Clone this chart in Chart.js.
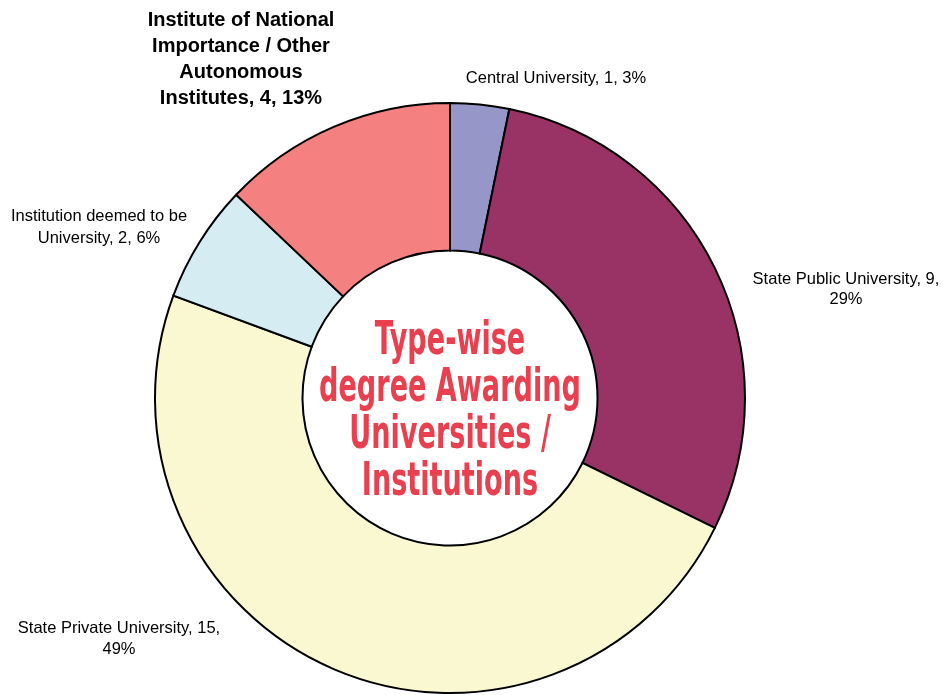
<!DOCTYPE html>
<html>
<head>
<meta charset="utf-8">
<script src="https://cdn.jsdelivr.net/npm/chart.js@4/dist/chart.umd.min.js"></script>
<style>
  html, body { margin: 0; padding: 0; background: #fff; }
  #wrap { width: 946px; height: 695px; position: relative; }
</style>
</head>
<body>
<div id="wrap"><canvas id="chart" width="946" height="695"></canvas></div>
<script>
// data
var categories = [
  "Central University",
  "State Public University",
  "State Private University",
  "Institution deemed to be University",
  "Institute of National Importance / Other Autonomous Institutes"
];
var counts = [1, 9, 15, 2, 4];
var sliceColors = ["#9696c8", "#993366", "#faf8d0", "#d5ecf3", "#f48080"];
var titleLines = ["Type-wise", "degree Awarding", "Universities /", "Institutions"];

// label text lines, anchor (center x, first line y), font
var labelSpecs = [
  { lines: ["Central University, 1, 3%"], x: 556, y: 78, lh: 20, bold: false, size: 16.5 },
  { lines: ["State Public University, 9,", "29%"], x: 846, y: 279, lh: 20, bold: false, size: 16.5 },
  { lines: ["State Private University, 15,", "49%"], x: 119, y: 628, lh: 21, bold: false, size: 16.5 },
  { lines: ["Institution deemed to be", "University, 2, 6%"], x: 99, y: 216, lh: 22, bold: false, size: 16.5 },
  { lines: ["Institute of National", "Importance / Other", "Autonomous", "Institutes, 4, 13%"], x: 241, y: 20, lh: 26, bold: true, size: 20 }
];

var labelPlugin = {
  id: "sliceLabels",
  afterDraw: function(chart) {
    var ctx = chart.ctx;
    ctx.save();
    ctx.fillStyle = "#000";
    ctx.textAlign = "center";
    ctx.textBaseline = "middle";
    labelSpecs.forEach(function(spec) {
      ctx.font = (spec.bold ? "bold " : "") + spec.size + "px 'Liberation Sans', Arial, sans-serif";
      spec.lines.forEach(function(line, i) {
        ctx.fillText(line, spec.x, spec.y + i * spec.lh);
      });
    });
    // center title, squeezed to look like a condensed face
    var meta = chart.getDatasetMeta(0);
    var arc = meta.data[0];
    var cx = arc.x, cy = arc.y + 15;
    ctx.fillStyle = "#e8404f";
    ctx.font = "bold 46px 'DejaVu Sans Condensed', 'Liberation Sans Narrow', sans-serif";
    if ("fontStretch" in ctx) ctx.fontStretch = "condensed";
    var lh = 47;
    var top = cy - lh * (titleLines.length - 1) / 2;
    ctx.translate(cx, 0);
    ctx.scale(0.655, 1);
    titleLines.forEach(function(line, i) {
      ctx.fillText(line, 0, top + i * lh);
    });
    ctx.restore();
  }
};

var chart = new Chart(document.getElementById("chart").getContext("2d"), {
  type: "doughnut",
  data: {
    labels: categories,
    datasets: [{
      data: counts,
      backgroundColor: sliceColors,
      borderColor: "#000",
      borderWidth: 2,
      borderJoinStyle: "miter"
    }]
  },
  options: {
    responsive: false,
    animation: false,
    cutout: "50%",
    layout: { padding: { top: 101, bottom: 0, left: 154, right: 200 } },
    plugins: {
      legend: { display: false },
      tooltip: { enabled: false }
    }
  },
  plugins: [labelPlugin]
});
</script>
</body>
</html>
